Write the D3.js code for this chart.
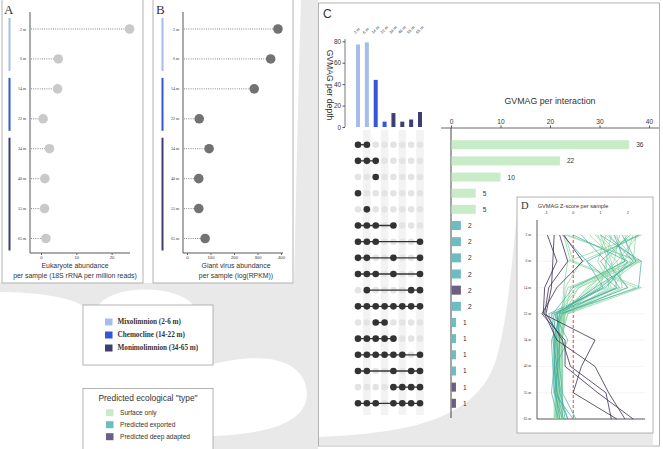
<!DOCTYPE html>
<html lang="en">
<head>
<meta charset="UTF-8" />
<script src="https://cdnjs.cloudflare.com/ajax/libs/d3/7.8.5/d3.min.js"></script>
<title>GVMAG depth</title>
<style>
  body { margin: 0; background: #fff; }
  svg { display: block; }
  text { font-family: "Liberation Sans", Arial, sans-serif; fill: #333; }
  .serif { font-family: "Liberation Serif", "DejaVu Serif", serif; }
  .frame { fill: #fff; stroke: #a0a0a0; stroke-width: 0.8; }
  .domain { display: none; }
</style>
</head>
<body>
<script>
// ---- data ----
const depths = ["2 m", "6 m", "14 m", "22 m", "34 m", "40 m", "55 m", "65 m"];
const zoneNames = ["Mixolimnion (2-6 m)", "Chemocline (14-22 m)", "Monimolimnion (34-65 m)"];
const zoneDepths = [["2 m", "6 m"], ["14 m", "22 m"], ["34 m", "40 m", "55 m", "65 m"]];
const depthZone = [0, 0, 1, 1, 2, 2, 2, 2];

const eukAbundance = [25.1, 4.9, 4.7, 0.6, 2.4, 1.1, 1.0, 1.4];
const eukTicks = [0, 10, 20];
const gvAbundance = [387, 356, 286, 52, 94, 50, 50, 77];
const gvTicks = [0, 100, 200, 300, 400];

const gvmagPerDepth = [77, 79, 44, 5, 13, 5, 7, 14];
const perDepthTicks = [0, 20, 40, 60, 80];

const setMembers = [
  [0, 1], [0, 1, 2], [2], [0], [1],
  [0, 1, 2, 4], [0, 1, 2, 7], [0, 1, 4, 7], [0, 1, 2, 4, 7], [1, 6, 7],
  [0, 1, 2, 3, 4, 5, 6, 7], [2, 3], [0, 1, 2, 3, 4], [0, 1, 2, 3, 4, 5, 7],
  [0, 1, 4, 6, 7], [4, 5, 6, 7], [0, 1, 2, 4, 5, 6, 7]
];
const setCounts = [36, 22, 10, 5, 5, 2, 2, 2, 2, 2, 2, 1, 1, 1, 1, 1, 1];
const setType = [0, 0, 0, 0, 0, 1, 1, 1, 1, 2, 1, 1, 1, 1, 1, 2, 2];
const interactionTicks = [0, 10, 20, 30, 40];

const typeNames = ["Surface only", "Predicted exported", "Predicted deep adapted"];

const zTicks = [-1, 0, 1, 2];
const zSurface = [
  [1.9, 2.1, 0.2, -0.55, -0.6, -0.6, -0.6, -0.6],
  [2.4, 1.6, 0.6, -0.5, -0.55, -0.55, -0.55, -0.55],
  [1.5, 2.3, 0.9, -0.45, -0.6, -0.6, -0.6, -0.65],
  [2.2, 1.9, 0.1, -0.6, -0.6, -0.65, -0.6, -0.6],
  [1.2, 2.4, 1.1, -0.5, -0.55, -0.6, -0.55, -0.6],
  [0.8, 2.0, 1.5, -0.4, -0.6, -0.55, -0.6, -0.6],
  [2.0, 1.2, 1.3, -0.35, -0.65, -0.6, -0.65, -0.6],
  [1.6, 1.8, 0.5, -0.3, -0.5, -0.5, -0.5, -0.5],
  [2.3, 2.2, -0.2, -0.5, -0.5, -0.55, -0.5, -0.5],
  [1.0, 1.9, 0.7, -0.45, -0.5, -0.5, -0.55, -0.5],
  [1.0, 1.4, 1.6, -0.3, -0.7, -0.7, -0.7, -0.7],
  [0.9, 1.3, 2.0, -0.5, -0.6, -0.65, -0.6, -0.7],
  [1.4, 1.2, 1.0, -0.45, -0.6, -0.6, -0.65, -0.65],
  [0.6, 1.6, 1.8, -0.2, -0.55, -0.6, -0.6, -0.6],
  [1.2, 0.9, 1.4, -0.4, -0.6, -0.55, -0.6, -0.6],
  [1.7, 1.5, 0.8, -0.5, -0.65, -0.65, -0.6, -0.6],
  [-0.3, 0.0, 2.5, -0.2, -0.45, -0.45, -0.45, -0.45],
  [-0.35, -0.1, 2.3, -0.3, -0.4, -0.4, -0.4, -0.4],
  [2.5, 0.3, -0.3, -0.35, -0.4, -0.4, -0.4, -0.4],
  [2.45, -0.2, -0.35, -0.4, -0.45, -0.4, -0.4, -0.4],
  [-0.3, 2.5, 0.2, -0.35, -0.4, -0.45, -0.4, -0.4],
  [-0.2, 2.4, -0.1, -0.3, -0.4, -0.4, -0.4, -0.4]
];
const zExported = [
  [1.8, 2.3, 0.8, -0.6, -0.5, -0.6, -0.45, -0.3],
  [1.0, 2.5, 2.4, -0.5, -0.7, -0.7, -0.65, -0.5],
  [2.4, 0.5, 1.1, -0.7, -0.2, -0.65, -0.6, -0.2],
  [0.3, 1.2, 2.0, -0.4, -0.8, -0.75, -0.7, 0.0],
  [1.5, 1.9, 0.0, -0.75, -0.6, -0.55, -0.7, -0.4],
  [-0.4, 0.5, 1.6, -0.6, -0.5, -0.5, -0.4, 0.1],
  [2.1, 1.0, 1.7, -0.8, -0.7, -0.7, -0.6, -0.35],
  [0.0, 2.0, 1.2, -0.9, -0.65, -0.7, -0.8, -0.55],
  [1.3, 2.2, 1.0, -0.65, -0.75, -0.6, -0.5, -0.2]
];
const zDeep = [
  [-0.95, -0.6, -1.05, -1.1, 0.8, 0.3, 0.0, 1.6],
  [-0.35, 0.35, -0.6, -1.15, -0.3, -0.3, 0.9, 2.2],
  [-0.5, -0.2, -0.9, -1.05, -0.6, 0.8, 1.3, 1.9],
  [-0.7, -0.75, -0.8, -1.0, -0.4, -0.1, 1.2, 1.4]
];

// ---- styles ----
const zoneColor = ["#a4bdea", "#3556d8", "#3d3f72"];
const typeColor = ["#c8ecc8", "#6fbcc0", "#6c5f80"];
const lineColor = ["#8dd8a0", "#3fa9a2", "#3a2d52"];
const grey = "#e9e9e9";

const svg = d3.select("body").append("svg").attr("width", 663).attr("height", 449);

// ---- background swooshes ----
svg.append("path").attr("fill", grey)
  .attr("d", "M0,283 H294 C296,200 298,100 301,0 H318 V449 H213 V306 H83 C70,297 35,292 0,292 Z");
svg.append("path").attr("fill", "#fff")
  .attr("d", "M98,306 C112,284 178,284 194,306 Z");
svg.append("path").attr("fill", "#fff")
  .attr("d", "M213,364 C272,350 306,362 307,395 C305,425 262,434 213,436 Z");

// ---- boxes ----
svg.append("rect").attr("class", "frame").attr("x", 2).attr("y", -1).attr("width", 141).attr("height", 284);
svg.append("rect").attr("class", "frame").attr("x", 153).attr("y", -1).attr("width", 140).attr("height", 284);
svg.append("rect").attr("class", "frame").attr("x", 318.5).attr("y", 3).attr("width", 341).attr("height", 443);
svg.append("path").attr("fill", grey)
  .attr("d", "M319,445.5 V437 C420,433 478,415 496,360 C508,320 512,260 517,215 V433 H653 V445.5 Z");
svg.append("rect").attr("class", "frame").attr("x", 517).attr("y", 197).attr("width", 136).attr("height", 236);
svg.append("rect").attr("class", "frame").attr("x", 83).attr("y", 305).attr("width", 130).attr("height", 60);
svg.append("rect").attr("class", "frame").attr("x", 83).attr("y", 388.5).attr("width", 130).attr("height", 70);

// ---- panels A and B (lollipops) ----
const yDepth = d3.scalePoint().domain(depths).range([29, 238.5]);

function lollipop(g, opt) {
  const x = d3.scaleLinear().domain(opt.domain).range(opt.range);
  zoneDepths.forEach((zd, i) => {
    g.append("rect").attr("x", opt.band).attr("width", 2)
      .attr("y", yDepth(zd[0]) - 11)
      .attr("height", yDepth(zd[zd.length - 1]) - yDepth(zd[0]) + 23)
      .attr("fill", zoneColor[i]);
  });
  g.append("line").attr("x1", opt.axis).attr("x2", opt.axis).attr("y1", 12).attr("y2", 253)
    .attr("stroke", "#444").attr("stroke-width", 0.9);
  g.append("line").attr("x1", opt.axis).attr("x2", opt.axisEnd).attr("y1", 253).attr("y2", 253)
    .attr("stroke", "#444").attr("stroke-width", 0.9);
  const ax = g.append("g").attr("transform", "translate(0,253)")
    .call(d3.axisBottom(x).tickValues(opt.ticks).tickSize(2).tickPadding(1.5));
  ax.selectAll("text").attr("font-size", 4.2).attr("fill", "#555");
  ax.selectAll("line").attr("stroke", "#666");
  g.selectAll(".lbl").data(depths).join("text")
    .attr("class", "serif").attr("x", opt.axis - 4).attr("y", d => yDepth(d))
    .attr("text-anchor", "end").attr("dominant-baseline", "central")
    .attr("font-size", 4).attr("fill", "#444").text(d => d);
  g.selectAll(".stem").data(opt.values).join("line")
    .attr("x1", opt.axis + 1).attr("x2", d => x(d))
    .attr("y1", (d, i) => yDepth(depths[i])).attr("y2", (d, i) => yDepth(depths[i]))
    .attr("stroke", "#444").attr("stroke-width", 0.7).attr("stroke-dasharray", "0.9,1.3");
  g.selectAll("circle").data(opt.values).join("circle")
    .attr("cx", d => x(d)).attr("cy", (d, i) => yDepth(depths[i])).attr("r", 4.8)
    .attr("fill", opt.dot);
  opt.title.forEach((t, i) => {
    g.append("text").attr("x", opt.titleX).attr("y", 268 + i * 10)
      .attr("text-anchor", "middle").attr("font-size", 6.9).attr("fill", "#222").text(t);
  });
  g.append("text").attr("class", "serif").attr("x", opt.letterX).attr("y", 14)
    .attr("font-size", 13).attr("fill", "#222").text(opt.letter);
}

lollipop(svg.append("g"), {
  letter: "A", letterX: 4, band: 8.5, axis: 30, axisEnd: 130,
  domain: [0, 20], range: [41, 111.6], ticks: eukTicks, values: eukAbundance,
  dot: "#c9c9c9", titleX: 75,
  title: ["Eukaryote abundance", "per sample (18S rRNA per million reads)"]
});
lollipop(svg.append("g"), {
  letter: "B", letterX: 156, band: 161.5, axis: 183, axisEnd: 283,
  domain: [0, 400], range: [187, 281], ticks: gvTicks, values: gvAbundance,
  dot: "#727272", titleX: 236,
  title: ["Giant virus abundance", "per sample (log(RPKM))"]
});

// ---- legends ----
const leg1 = svg.append("g");
zoneNames.forEach((n, i) => {
  const y = 322 + i * 13;
  leg1.append("rect").attr("x", 105).attr("y", y - 3.5).attr("width", 7.5).attr("height", 7)
    .attr("fill", zoneColor[i]);
  leg1.append("text").attr("class", "serif").attr("x", 117.5).attr("y", y)
    .attr("dominant-baseline", "central").attr("font-size", 7.2).attr("font-weight", "bold")
    .attr("fill", "#333").text(n);
});
const leg2 = svg.append("g");
leg2.append("text").attr("x", 148).attr("y", 401).attr("text-anchor", "middle")
  .attr("font-size", 8.4).attr("fill", "#222").text("Predicted  ecological \"type\"");
typeNames.forEach((n, i) => {
  const y = 412.7 + i * 12;
  leg2.append("rect").attr("x", 106).attr("y", y - 3.5).attr("width", 7.5).attr("height", 7)
    .attr("fill", typeColor[i]);
  leg2.append("text").attr("x", 120).attr("y", y).attr("dominant-baseline", "central")
    .attr("font-size", 6.6).attr("fill", "#333").text(n);
});

// ---- panel C ----
const gc = svg.append("g");
gc.append("text").attr("x", 323).attr("y", 18).attr("font-size", 12).attr("fill", "#222").text("C");
const xCol = d3.scalePoint().domain(depths).range([358, 420]);
const yBar = d3.scaleLinear().domain([0, 80]).range([127, 41.3]);
const yRow = d3.scalePoint().domain(d3.range(setCounts.length)).range([144.7, 403.3]);

gc.selectAll(".stripe").data(depths.filter((d, i) => i % 2 === 1)).join("rect")
  .attr("x", d => xCol(d) - 3.8).attr("width", 7.6).attr("y", 130).attr("height", 285)
  .attr("fill", "#f3f3f3");

gc.selectAll(".colLbl").data(depths).join("text")
  .attr("transform", d => `translate(${xCol(d) - 2.5},34) rotate(-45)`)
  .attr("font-size", 4).attr("fill", "#555").text(d => d);

const ayb = gc.append("g").attr("transform", "translate(345,0)")
  .call(d3.axisLeft(yBar).tickValues(perDepthTicks).tickSize(2.5).tickPadding(1.5));
ayb.selectAll("text").attr("font-size", 6.4).attr("fill", "#555");
ayb.selectAll("line").attr("stroke", "#555");
gc.append("line").attr("x1", 345).attr("x2", 345).attr("y1", 39).attr("y2", 127)
  .attr("stroke", "#555").attr("stroke-width", 0.8);
gc.append("text").attr("transform", "translate(326.5,85) rotate(90)")
  .attr("text-anchor", "middle").attr("font-size", 8.6).attr("fill", "#222").text("GVMAG per depth");

gc.selectAll(".dbar").data(gvmagPerDepth).join("rect")
  .attr("x", (d, i) => xCol(depths[i]) - 2).attr("width", 4)
  .attr("y", d => yBar(d)).attr("height", d => yBar(0) - yBar(d))
  .attr("fill", (d, i) => zoneColor[depthZone[i]]);

// matrix
const rows = gc.selectAll(".row").data(setMembers).join("g")
  .attr("transform", (d, i) => `translate(0,${yRow(i)})`);
rows.selectAll(".bg").data(depths).join("circle")
  .attr("cx", d => xCol(d)).attr("r", 3.3).attr("fill", "#e4e4e4");
rows.append("line")
  .attr("x1", d => xCol(depths[d3.min(d)])).attr("x2", d => xCol(depths[d3.max(d)]))
  .attr("stroke", "#333").attr("stroke-width", 1.3);
rows.selectAll(".on").data(d => d).join("circle")
  .attr("cx", d => xCol(depths[d])).attr("r", 3.3).attr("fill", "#333");

// interaction bars
const xI = d3.scaleLinear().domain([0, 40]).range([451, 649]);
gc.append("text").attr("x", 550).attr("y", 104).attr("text-anchor", "middle")
  .attr("font-size", 8.8).attr("fill", "#222").text("GVMAG per interaction");
gc.append("line").attr("x1", 441).attr("x2", 659).attr("y1", 128).attr("y2", 128)
  .attr("stroke", "#444").attr("stroke-width", 0.8);
const axi = gc.append("g").attr("transform", "translate(0,128)")
  .call(d3.axisTop(xI).tickValues(interactionTicks).tickSize(2.5).tickPadding(1.5));
axi.selectAll("text").attr("font-size", 6.6).attr("fill", "#555");
axi.selectAll("line").attr("stroke", "#555");
gc.append("line").attr("x1", 451).attr("x2", 451).attr("y1", 128).attr("y2", 418)
  .attr("stroke", "#333").attr("stroke-width", 0.9);
gc.selectAll(".ibar").data(setCounts).join("rect")
  .attr("x", 451.5).attr("y", (d, i) => yRow(i) - 4.5)
  .attr("width", d => xI(d) - 451.5).attr("height", 9)
  .attr("fill", (d, i) => typeColor[setType[i]]);
gc.selectAll(".ilbl").data(setCounts).join("text")
  .attr("x", d => xI(d) + 7).attr("y", (d, i) => yRow(i))
  .attr("dominant-baseline", "central").attr("font-size", 6.6).attr("fill", "#444").text(d => d);

// ---- panel D ----
const gd = svg.append("g");
const xZ = d3.scaleLinear().domain([-1, 2]).range([546, 627.7]);
const yZ = d3.scalePoint().domain(depths).range([235, 419]);
gd.append("text").attr("class", "serif").attr("x", 521).attr("y", 209)
  .attr("font-size", 10.5).attr("fill", "#222").text("D");
gd.append("text").attr("x", 573).attr("y", 207.5).attr("text-anchor", "middle")
  .attr("font-size", 5.6).attr("fill", "#333").text("GVMAG Z-score per sample");
gd.selectAll(".grid").data(depths).join("line")
  .attr("x1", 537).attr("x2", 645).attr("y1", d => yZ(d)).attr("y2", d => yZ(d))
  .attr("stroke", "#ececec").attr("stroke-width", 0.6);
gd.selectAll(".zt").data(zTicks).join("text")
  .attr("x", d => xZ(d)).attr("y", 214).attr("text-anchor", "middle")
  .attr("font-size", 3.8).attr("fill", "#555").text(d => d);
gd.selectAll(".zd").data(depths).join("text")
  .attr("class", "serif").attr("x", 531).attr("y", d => yZ(d))
  .attr("text-anchor", "end").attr("dominant-baseline", "central")
  .attr("font-size", 3.6).attr("fill", "#555").text(d => d);
gd.append("line").attr("x1", 537).attr("x2", 537).attr("y1", 220).attr("y2", 419)
  .attr("stroke", "#333").attr("stroke-width", 0.8);
gd.append("line").attr("x1", 537).attr("x2", 645).attr("y1", 419).attr("y2", 419)
  .attr("stroke", "#333").attr("stroke-width", 0.8);
gd.append("line").attr("x1", xZ(0)).attr("x2", xZ(0)).attr("y1", 235).attr("y2", 419)
  .attr("stroke", "#d9362e").attr("stroke-width", 0.9).attr("stroke-dasharray", "3,2");

const zLine = d3.line().x(v => xZ(v)).y((v, i) => yZ(depths[i]));
[zSurface, zExported, zDeep].forEach((set, t) => {
  gd.append("g").selectAll("path").data(set).join("path")
    .attr("d", zLine).attr("fill", "none")
    .attr("stroke", lineColor[t]).attr("stroke-width", t === 0 ? 0.9 : 0.8)
    .attr("stroke-opacity", t === 2 ? 1 : 0.85);
});
</script>
</body>
</html>
